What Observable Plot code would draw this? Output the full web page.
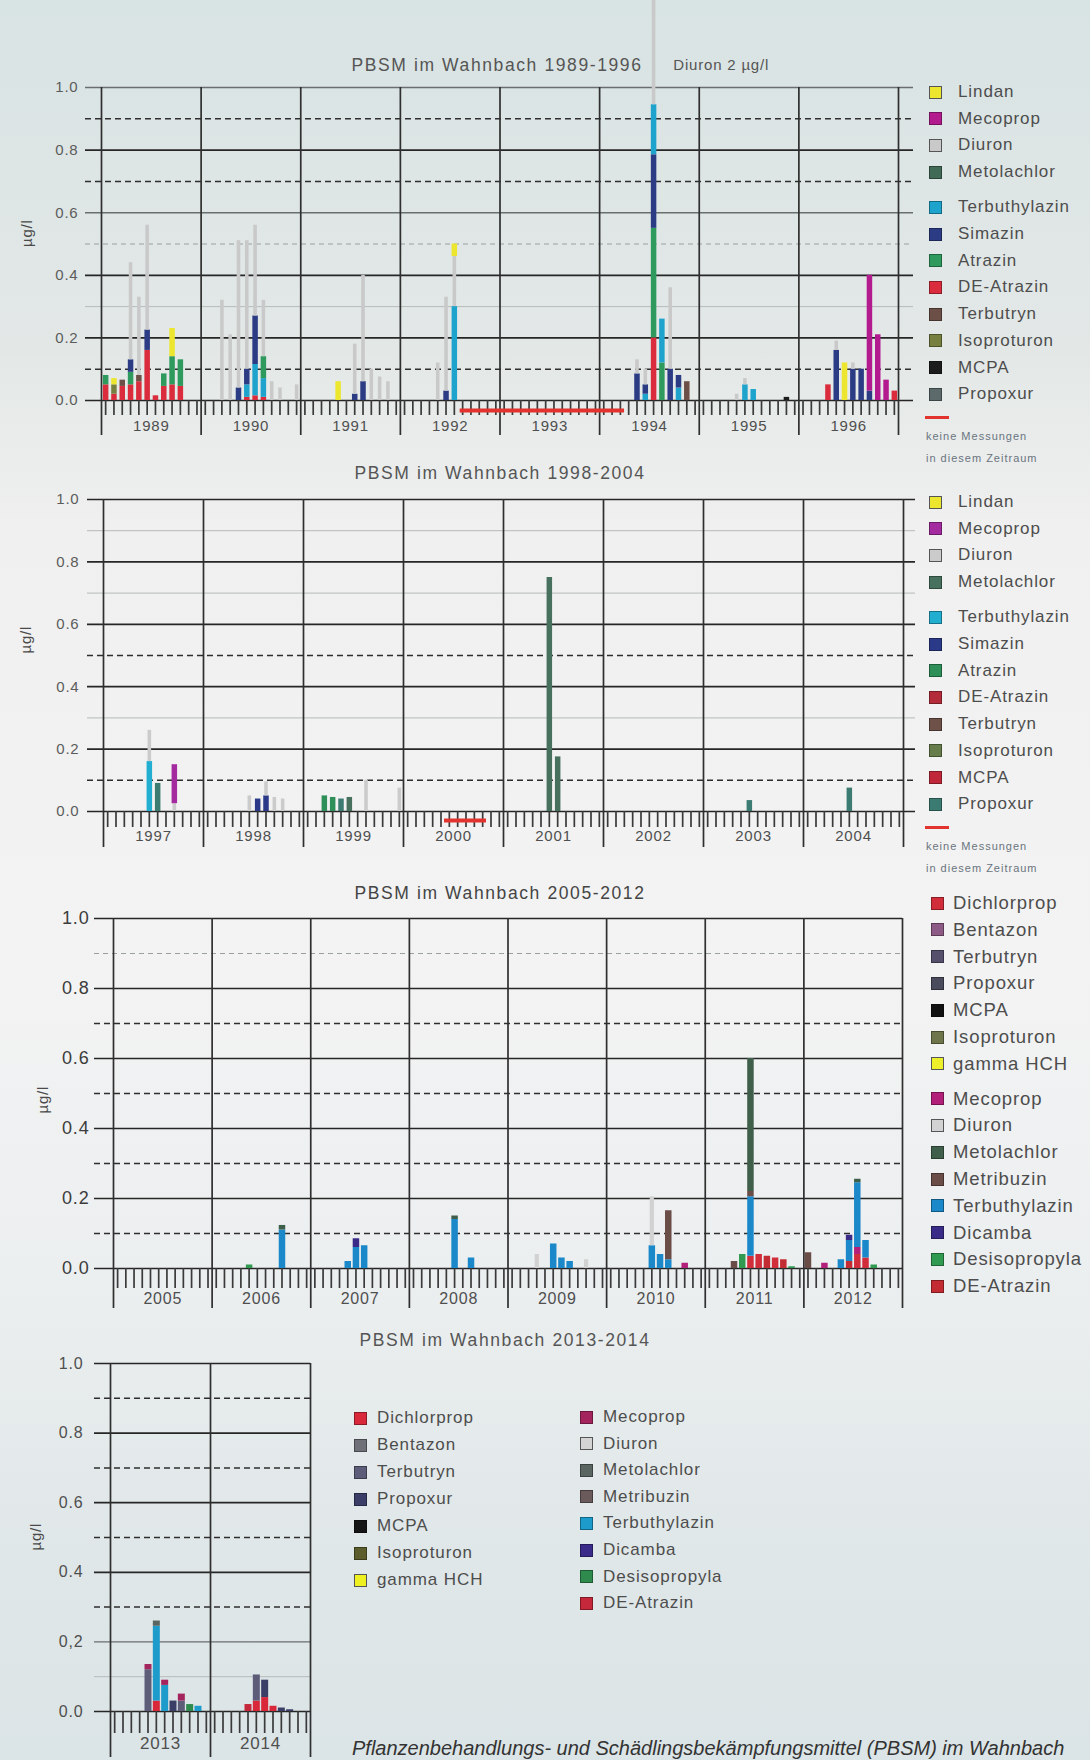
<!DOCTYPE html>
<html>
<head>
<meta charset="utf-8">
<script src="https://cdn.jsdelivr.net/npm/d3@7"></script>
<script src="https://cdn.jsdelivr.net/npm/@observablehq/plot@0.6"></script>
<style>
html, body { margin: 0; padding: 0; }
body {
  width: 1090px; height: 1760px; overflow: hidden;
  background: linear-gradient(to bottom, #d8e3e3 0%, #e3e8e7 20%, #eff0ef 30%, #f3f3f3 55%, #eceff0 72%, #e0e7e8 88%, #dbe4e6 100%);
  font-family: "Liberation Sans", Arial, sans-serif;
}
#root { position: relative; width: 1090px; height: 1760px; }
.panel { position: absolute; left: 0; }
.title { position: absolute; white-space: nowrap; transform: translate(-50%, -50%); }
.lg-sq { position: absolute; width: 13px; height: 13px; box-sizing: border-box; border: 1px solid rgba(0,0,0,0.35); }
.lg-tx { position: absolute; white-space: nowrap; transform: translateY(-50%); color: #4d4d4d; }
.note { position: absolute; white-space: nowrap; color: #6a7480; font-size: 11px; letter-spacing: 1px; transform: translateY(-50%); }
.caption { position: absolute; left: 352px; top: 1737px; white-space: nowrap; font-style: italic; font-size: 20px; letter-spacing: 0px; color: #333; }
</style>
</head>
<body>
<div id="root"></div>
<script>
// ---------------- DATA ----------------
const subs12 = ["Lindan","Mecoprop","Diuron","Metolachlor","Terbuthylazin","Simazin","Atrazin","DE-Atrazin","Terbutryn","Isoproturon","MCPA","Propoxur"];
const colors1 = ["#ece62e","#b31a8e","#c9c9c9","#416b57","#1ea3cc","#2b3c85","#2f9a5d","#da2c3c","#6c4f46","#77803f","#1c1c1c","#5c6a6b"];
const colors2 = ["#ece62e","#a42aa0","#cbcbcb","#47705e","#22aed0","#2a3a88","#2f8f58","#b42c3a","#6e5149","#667d4b","#c0283a","#3c7b72"];

const subs34 = ["Dichlorprop","Bentazon","Terbutryn","Propoxur","MCPA","Isoproturon","gamma HCH","Mecoprop","Diuron","Metolachlor","Metribuzin","Terbuthylazin","Dicamba","Desisopropyla","DE-Atrazin"];
const colors3 = ["#d22d3b","#8c5a85","#57506d","#4a4b5d","#111111","#6f754a","#ecef2a","#b3207a","#d2d2d2","#3f5f4a","#6b4d48","#1b88c9","#3b2b88","#2f9a50","#c22c32"];
const colors4 = ["#d8283a","#6f7078","#5d5d7a","#3b3f68","#151515","#5b5d2c","#eef020","#a4255e","#d4d4d4","#5a6461","#6a5a5c","#1d9ccb","#3a2a8a","#2f8a4e","#c4283a"];

const years1 = [1989,1990,1991,1992,1993,1994,1995,1996];
const years2 = [1997,1998,1999,2000,2001,2002,2003,2004];
const years3 = [2005,2006,2007,2008,2009,2010,2011,2012];
const years4 = [2013,2014];

const yTicks = [0,0.2,0.4,0.6,0.8,1.0];
const yLabels1 = ["0.0","0.2","0.4","0.6","0.8","1.0"];
const yLabels4 = ["0.0","0,2","0.4","0.6","0.8","1.0"];

// [year, month, substance, µg/l] — stacked bottom to top in listed order
const data1 = [
  [1989,1,"DE-Atrazin",0.05],[1989,1,"Atrazin",0.03],
  [1989,2,"DE-Atrazin",0.02],[1989,2,"Isoproturon",0.03],[1989,2,"Lindan",0.02],
  [1989,3,"DE-Atrazin",0.045],[1989,3,"Terbutryn",0.02],
  [1989,4,"DE-Atrazin",0.05],[1989,4,"Atrazin",0.04],[1989,4,"Simazin",0.04],[1989,4,"Diuron",0.31],
  [1989,5,"DE-Atrazin",0.06],[1989,5,"Terbutryn",0.02],[1989,5,"Diuron",0.25],
  [1989,6,"DE-Atrazin",0.16],[1989,6,"Simazin",0.065],[1989,6,"Diuron",0.335],
  [1989,7,"DE-Atrazin",0.015],
  [1989,8,"DE-Atrazin",0.045],[1989,8,"Atrazin",0.04],
  [1989,9,"DE-Atrazin",0.05],[1989,9,"Atrazin",0.09],[1989,9,"Lindan",0.09],
  [1989,10,"DE-Atrazin",0.045],[1989,10,"Atrazin",0.085],
  [1990,3,"Diuron",0.32],
  [1990,4,"Diuron",0.21],
  [1990,5,"Simazin",0.04],[1990,5,"Diuron",0.47],
  [1990,6,"DE-Atrazin",0.01],[1990,6,"Terbuthylazin",0.04],[1990,6,"Simazin",0.05],[1990,6,"Diuron",0.41],
  [1990,7,"DE-Atrazin",0.015],[1990,7,"Terbuthylazin",0.1],[1990,7,"Simazin",0.155],[1990,7,"Diuron",0.29],
  [1990,8,"DE-Atrazin",0.01],[1990,8,"Terbuthylazin",0.06],[1990,8,"Atrazin",0.07],[1990,8,"Diuron",0.18],
  [1990,9,"Diuron",0.06],[1990,10,"Diuron",0.04],[1990,12,"Diuron",0.05],
  [1991,5,"Lindan",0.06],
  [1991,7,"Simazin",0.02],[1991,7,"Diuron",0.16],
  [1991,8,"Simazin",0.06],[1991,8,"Diuron",0.34],
  [1991,9,"Diuron",0.1],[1991,10,"Diuron",0.075],[1991,11,"Diuron",0.06],
  [1992,5,"Diuron",0.12],
  [1992,6,"Simazin",0.03],[1992,6,"Diuron",0.3],
  [1992,7,"Terbuthylazin",0.3],[1992,7,"Diuron",0.16],[1992,7,"Lindan",0.04],
  [1994,5,"Simazin",0.085],[1994,5,"Diuron",0.045],
  [1994,6,"Terbuthylazin",0.02],[1994,6,"Simazin",0.03],[1994,6,"Diuron",0.05],
  [1994,7,"DE-Atrazin",0.2],[1994,7,"Atrazin",0.35],[1994,7,"Simazin",0.235],[1994,7,"Terbuthylazin",0.16],[1994,7,"Diuron",2.0],
  [1994,8,"Atrazin",0.12],[1994,8,"Terbuthylazin",0.14],
  [1994,9,"Simazin",0.1],[1994,9,"Diuron",0.26],
  [1994,10,"Terbuthylazin",0.04],[1994,10,"Simazin",0.04],
  [1994,11,"Terbutryn",0.06],
  [1995,5,"Diuron",0.02],
  [1995,6,"Terbuthylazin",0.05],[1995,6,"Diuron",0.02],
  [1995,7,"Terbuthylazin",0.035],
  [1995,11,"MCPA",0.01],
  [1996,4,"DE-Atrazin",0.05],
  [1996,5,"Simazin",0.16],[1996,5,"Diuron",0.03],
  [1996,6,"Lindan",0.12],
  [1996,7,"Simazin",0.1],[1996,7,"Diuron",0.02],
  [1996,8,"Simazin",0.1],
  [1996,9,"Simazin",0.03],[1996,9,"Mecoprop",0.37],
  [1996,10,"Mecoprop",0.21],
  [1996,11,"Mecoprop",0.065],
  [1996,12,"DE-Atrazin",0.03]
];
const data2 = [
  [1997,6,"Terbuthylazin",0.16],[1997,6,"Diuron",0.1],
  [1997,7,"Propoxur",0.09],
  [1997,9,"Diuron",0.025],[1997,9,"Mecoprop",0.125],
  [1998,6,"Diuron",0.05],
  [1998,7,"Simazin",0.04],
  [1998,8,"Simazin",0.05],[1998,8,"Diuron",0.045],
  [1998,9,"Diuron",0.045],
  [1998,10,"Diuron",0.04],
  [1999,3,"Atrazin",0.05],
  [1999,4,"Atrazin",0.045],
  [1999,5,"Propoxur",0.04],
  [1999,6,"Metolachlor",0.045],
  [1999,8,"Diuron",0.1],
  [1999,12,"Diuron",0.075],
  [2001,6,"Metolachlor",0.75],
  [2001,7,"Metolachlor",0.175],
  [2003,6,"Propoxur",0.035],
  [2004,6,"Propoxur",0.075]
];
const data3 = [
  [2006,5,"Desisopropyla",0.01],
  [2006,9,"Terbuthylazin",0.11],[2006,9,"Metolachlor",0.013],
  [2007,5,"Terbuthylazin",0.02],
  [2007,6,"Terbuthylazin",0.06],[2007,6,"Dicamba",0.025],
  [2007,7,"Terbuthylazin",0.065],
  [2008,6,"Terbuthylazin",0.14],[2008,6,"Metolachlor",0.01],
  [2008,8,"Terbuthylazin",0.03],
  [2009,4,"Diuron",0.04],
  [2009,6,"Terbuthylazin",0.07],
  [2009,7,"Terbuthylazin",0.03],
  [2009,8,"Terbuthylazin",0.02],
  [2009,10,"Diuron",0.025],
  [2010,6,"Terbuthylazin",0.065],[2010,6,"Diuron",0.14],
  [2010,7,"Terbuthylazin",0.04],
  [2010,8,"Terbuthylazin",0.025],[2010,8,"Metribuzin",0.14],
  [2010,10,"Mecoprop",0.015],
  [2011,4,"Metribuzin",0.02],
  [2011,5,"Desisopropyla",0.04],
  [2011,6,"Dichlorprop",0.035],[2011,6,"Terbuthylazin",0.17],[2011,6,"Metribuzin",0.015],[2011,6,"Metolachlor",0.38],
  [2011,7,"Dichlorprop",0.04],
  [2011,8,"DE-Atrazin",0.035],
  [2011,9,"Dichlorprop",0.03],
  [2011,10,"DE-Atrazin",0.025],
  [2011,11,"Desisopropyla",0.005],
  [2012,1,"Metribuzin",0.045],
  [2012,3,"Mecoprop",0.015],
  [2012,5,"Terbuthylazin",0.025],
  [2012,6,"DE-Atrazin",0.02],[2012,6,"Terbuthylazin",0.06],[2012,6,"Dicamba",0.015],
  [2012,7,"Dichlorprop",0.04],[2012,7,"Mecoprop",0.02],[2012,7,"Terbuthylazin",0.185],[2012,7,"Metolachlor",0.01],
  [2012,8,"Dichlorprop",0.03],[2012,8,"Terbuthylazin",0.05],
  [2012,9,"Desisopropyla",0.01]
];
const data4 = [
  [2013,5,"Terbutryn",0.12],[2013,5,"Mecoprop",0.015],
  [2013,6,"Dichlorprop",0.03],[2013,6,"Terbuthylazin",0.215],[2013,6,"Metolachlor",0.015],
  [2013,7,"Terbuthylazin",0.075],[2013,7,"Mecoprop",0.015],
  [2013,8,"Propoxur",0.03],
  [2013,9,"Terbutryn",0.03],[2013,9,"Mecoprop",0.02],
  [2013,10,"Desisopropyla",0.02],
  [2013,11,"Terbuthylazin",0.015],
  [2014,5,"DE-Atrazin",0.02],
  [2014,6,"Dichlorprop",0.03],[2014,6,"Terbutryn",0.075],
  [2014,7,"Dichlorprop",0.04],[2014,7,"Propoxur",0.05],
  [2014,8,"Dichlorprop",0.015],
  [2014,9,"Propoxur",0.01],
  [2014,10,"Propoxur",0.005]
];

// periods without measurements [from, to] (decimal years)
const gaps1 = [[1992.6, 1994.25]];
const gaps2 = [[2000.41, 2000.83]];

const notes1 = [{t: 1994.74, v: 1.07, label: "Diuron 2 µg/l"}];

const titles = ["PBSM im Wahnbach 1989-1996","PBSM im Wahnbach 1998-2004","PBSM im Wahnbach 2005-2012","PBSM im Wahnbach 2013-2014"];
const unitLabel = "µg/l";

const legend1 = [["Lindan","Mecoprop","Diuron","Metolachlor"],["Terbuthylazin","Simazin","Atrazin","DE-Atrazin","Terbutryn","Isoproturon","MCPA","Propoxur"]];
const legend3 = [["Dichlorprop","Bentazon","Terbutryn","Propoxur","MCPA","Isoproturon","gamma HCH"],["Mecoprop","Diuron","Metolachlor","Metribuzin","Terbuthylazin","Dicamba","Desisopropyla","DE-Atrazin"]];
const noteText = ["keine Messungen","in diesem Zeitraum"];
const captionText = "Pflanzenbehandlungs- und Schädlingsbekämpfungsmittel (PBSM) im Wahnbach";

// ---------------- DRAWING ----------------
const W = 1090;
const root = document.getElementById("root");
const FONT = "Liberation Sans, Arial, sans-serif";

function makePanel(c) {
  const y0 = c.years[0], y1 = c.years[c.years.length - 1] + 1;
  const monthTicks = c.years.flatMap(y => d3.range(12).map(m => y + (m + 0.5) / 12));
  const bounds = d3.range(y0, y1 + 1);
  const gridOpt = {insetLeft: -c.gl, insetRight: -c.gr};
  const svg = Plot.plot({
    width: W, height: c.height,
    marginTop: c.mt, marginBottom: c.mb, marginLeft: c.ml, marginRight: W - c.xr,
    x: {domain: [y0, y1], axis: null},
    y: {domain: [0, 1], axis: null},
    color: {domain: c.subs, range: c.colors},
    style: {background: "transparent", fontFamily: FONT, overflow: "visible"},
    marks: [
      Plot.ruleY(c.grid.faint, {stroke: "#b5bbbb", strokeWidth: 1, ...gridOpt}),
      Plot.ruleY(c.grid.faintDash, {stroke: "#9aa0a0", strokeWidth: 1.2, strokeDasharray: "5,4", ...gridOpt}),
      Plot.ruleY(c.grid.medium, {stroke: "#6a6e6e", strokeWidth: 1.4, ...gridOpt}),
      Plot.ruleY(c.grid.dashed, {stroke: "#2e2e2e", strokeWidth: 1.5, strokeDasharray: "6,4", ...gridOpt}),
      Plot.ruleY(c.grid.solid, {stroke: "#262626", strokeWidth: 1.7, ...gridOpt}),
      Plot.ruleX(bounds, {stroke: "#2f2f2f", strokeWidth: 1.7, insetBottom: -c.sepExt}),
      Plot.ruleX(monthTicks, {y1: 0, y2: 0, insetBottom: -c.tickLen, stroke: "#3a3a3a", strokeWidth: 1.7}),
      Plot.ruleY(c.gaps, {x1: d => d[0], x2: d => d[1], y: 0, dy: c.gapDy, stroke: "#e2332f", strokeWidth: 4}),
      Plot.ruleX(c.data, Plot.stackY({
        x: d => d[0] + (d[1] - 0.5) / 12,
        y: d => d[3],
        stroke: d => d[2],
        strokeWidth: d => d[2] === "Diuron" ? c.bw * 0.65 : c.bw
      })),
      Plot.text(yTicks, {y: d => d, frameAnchor: "left", dx: -c.labelGap, textAnchor: "end",
        text: (d, i) => c.yLabels[i], fontSize: c.yFont, fill: c.yColor}),
      Plot.text(c.years, {x: d => d + 0.5, frameAnchor: "bottom", dy: c.yearDy, text: d => String(d),
        fontSize: c.yearFont, fill: "#4f4f4f", style: "letter-spacing:1px"}),
      Plot.text([unitLabel], {frameAnchor: "left", rotate: -90, dx: c.unitDx, dy: c.unitDy,
        fontSize: 15, fill: "#4a4a4a"}),
      Plot.text(c.notes, {x: "t", y: "v", text: "label", textAnchor: "start", fontSize: 15, fill: "#555"})
    ]
  });
  svg.classList.add("panel");
  svg.style.top = c.top + "px";
  svg.style.letterSpacing = "0.8px";
  root.appendChild(svg);
}

function addTitle(text, x, y, size, color) {
  const d = document.createElement("div");
  d.className = "title";
  d.textContent = text;
  Object.assign(d.style, {left: x + "px", top: y + "px", fontSize: size + "px", color, letterSpacing: "1.6px"});
  root.appendChild(d);
}

function addLegend(groups, subs, colors, o) {
  let y = o.top;
  groups.forEach((g, gi) => {
    if (gi) y += o.gap;
    g.forEach(name => {
      const col = colors[subs.indexOf(name)];
      const sq = document.createElement("div");
      sq.className = "lg-sq";
      const hollow = name === "Lindan" || name === "gamma HCH" || name === "Diuron";
      Object.assign(sq.style, {left: o.sx + "px", top: (y - 6.5) + "px", background: col,
        border: hollow ? "1.5px solid #555" : ""});
      root.appendChild(sq);
      const tx = document.createElement("div");
      tx.className = "lg-tx";
      tx.textContent = name;
      Object.assign(tx.style, {left: o.tx + "px", top: y + "px", fontSize: o.font + "px", letterSpacing: o.ls + "px"});
      root.appendChild(tx);
      y += o.step;
    });
  });
  return y - o.step;
}

function addNote(lastY, o) {
  const ln = document.createElement("div");
  Object.assign(ln.style, {position: "absolute", left: (o.sx - 4) + "px", top: (lastY + 22) + "px",
    width: "24px", height: "3px", background: "#e2332f"});
  root.appendChild(ln);
  noteText.forEach((t, i) => {
    const n = document.createElement("div");
    n.className = "note";
    n.textContent = t;
    Object.assign(n.style, {left: (o.sx - 3) + "px", top: (lastY + 42 + i * 22) + "px"});
    root.appendChild(n);
  });
}

// Panel 1
makePanel({
  years: years1, data: data1, subs: subs12, colors: colors1, gaps: gaps1, notes: notes1,
  yLabels: yLabels1, top: 0, height: 445, mt: 87, mb: 45, ml: 101, xr: 898,
  gl: 16, gr: 15, sepExt: 35, tickLen: 15, gapDy: 10, bw: 5.5,
  labelGap: 23, yFont: 15, yColor: "#5c5c5c", yearDy: 30, yearFont: 15, unitDx: -74, unitDy: 3,
  grid: {solid: [0, 0.2, 0.4, 0.8], medium: [0.6, 1.0], dashed: [0.1, 0.7, 0.9], faintDash: [0.5], faint: [0.3]}
});
// Panel 2
makePanel({
  years: years2, data: data2, subs: subs12, colors: colors2, gaps: gaps2, notes: [],
  yLabels: yLabels1, top: 445, height: 411, mt: 54, mb: 45, ml: 103, xr: 903,
  gl: 16, gr: 12, sepExt: 36, tickLen: 16, gapDy: 9, bw: 5.5,
  labelGap: 24, yFont: 15, yColor: "#5c5c5c", yearDy: 29, yearFont: 15, unitDx: -77, unitDy: -2,
  grid: {solid: [0, 0.2, 0.4, 0.6, 0.8, 1.0], medium: [], dashed: [0.1, 0.5], faintDash: [], faint: [0.3, 0.7, 0.9]}
});
// Panel 3
makePanel({
  years: years3, data: data3, subs: subs34, colors: colors3, gaps: [], notes: [],
  yLabels: yLabels1, top: 856, height: 452, mt: 62, mb: 40, ml: 113, xr: 902,
  gl: 19, gr: 0, sepExt: 40, tickLen: 20, gapDy: 10, bw: 6.5,
  labelGap: 24, yFont: 18, yColor: "#3c3c3c", yearDy: 35, yearFont: 16, unitDx: -70, unitDy: 20,
  grid: {solid: [0, 0.2, 0.4, 0.6, 0.8, 1.0], medium: [], dashed: [0.1, 0.3, 0.5, 0.7], faintDash: [0.9], faint: []}
});
// Panel 4
makePanel({
  years: years4, data: data4, subs: subs34, colors: colors4, gaps: [], notes: [],
  yLabels: yLabels4, top: 1308, height: 452, mt: 55, mb: 49, ml: 110, xr: 310,
  gl: 16, gr: 0, sepExt: 46, tickLen: 22, gapDy: 10, bw: 7,
  labelGap: 27, yFont: 16, yColor: "#4f4f4f", yearDy: 37, yearFont: 17, unitDx: -74, unitDy: 13,
  grid: {solid: [0, 0.4, 0.6, 0.8, 1.0], medium: [0.2], dashed: [0.3, 0.5, 0.7, 0.9], faintDash: [], faint: [0.1]}
});

// Titles
addTitle(titles[0], 497, 65, 17.5, "#555");
addTitle(titles[1], 500, 473, 17.5, "#555");
addTitle(titles[2], 500, 893, 17.5, "#444");
addTitle(titles[3], 505, 1340, 17.5, "#555");

// Legends
const last1 = addLegend(legend1, subs12, colors1, {top: 92, step: 26.7, gap: 8.5, sx: 929, tx: 958, font: 17, ls: 0.9});
addNote(last1, {sx: 929});
const last2 = addLegend(legend1, subs12, colors2, {top: 502, step: 26.7, gap: 8.5, sx: 929, tx: 958, font: 17, ls: 0.9});
addNote(last2, {sx: 929});
addLegend(legend3, subs34, colors3, {top: 903, step: 26.8, gap: 8, sx: 931, tx: 953, font: 18.5, ls: 0.9});
addLegend([legend3[0]], subs34, colors4, {top: 1418, step: 27, gap: 0, sx: 354, tx: 377, font: 17, ls: 0.9});
addLegend([legend3[1]], subs34, colors4, {top: 1417, step: 26.6, gap: 0, sx: 580, tx: 603, font: 17, ls: 0.9});

// Caption
const cap = document.createElement("div");
cap.className = "caption";
cap.textContent = captionText;
root.appendChild(cap);
</script>
</body>
</html>
